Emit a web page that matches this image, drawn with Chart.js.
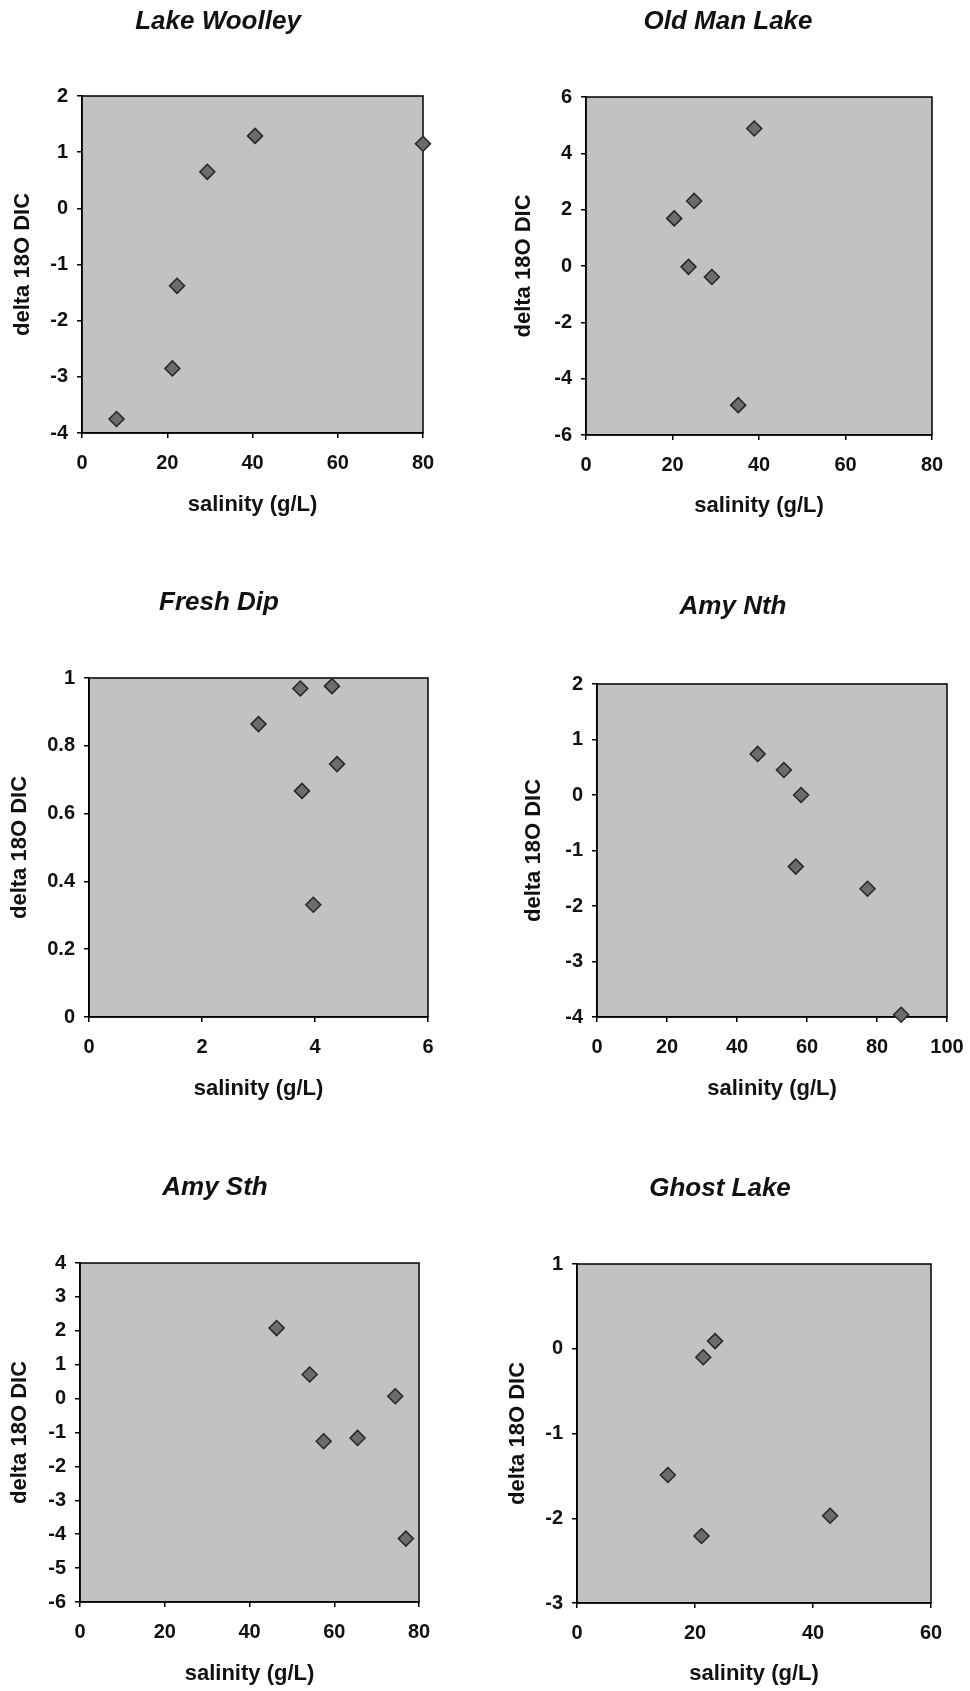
<!DOCTYPE html>
<html>
<head>
<meta charset="utf-8">
<script src="https://cdn.jsdelivr.net/npm/chart.js@4.4.1/dist/chart.umd.min.js"></script>
<style>
  html, body { margin: 0; padding: 0; background: #ffffff; width: 970px; height: 1691px; overflow: hidden; }
  canvas { position: absolute; }
</style>
</head>
<body>
<script>
// ---------------- DATA ----------------
const panelTitles = ['Lake Woolley', 'Old Man Lake', 'Fresh Dip', 'Amy Nth', 'Amy Sth', 'Ghost Lake'];
const xAxisTitle = 'salinity (g/L)';
const yAxisTitle = 'delta 18O DIC';

const woolleySalinity = [8.1, 21.2, 22.3, 29.4, 40.6, 80.0];
const woolleyDelta    = [-3.75, -2.85, -1.38, 0.65, 1.29, 1.15];

const oldManSalinity  = [38.9, 25.0, 20.4, 23.7, 29.1, 35.2];
const oldManDelta     = [4.88, 2.31, 1.69, -0.03, -0.39, -4.94];

const freshDipSalinity = [3.00, 3.74, 4.30, 4.39, 3.77, 3.97];
const freshDipDelta    = [0.864, 0.969, 0.976, 0.746, 0.667, 0.331];

const amyNthSalinity  = [45.9, 53.4, 58.3, 56.8, 77.3, 86.9];
const amyNthDelta     = [0.74, 0.45, 0.0, -1.29, -1.69, -3.96];

const amySthSalinity  = [46.4, 54.2, 57.5, 65.5, 74.4, 76.9];
const amySthDelta     = [2.08, 0.71, -1.26, -1.16, 0.07, -4.13];

const ghostSalinity   = [23.4, 21.4, 15.4, 21.1, 42.9];
const ghostDelta      = [0.09, -0.10, -1.49, -2.21, -1.97];

// tick labels
const woolleyXTicks  = [0, 20, 40, 60, 80];
const woolleyYTicks  = [-4, -3, -2, -1, 0, 1, 2];
const oldManXTicks   = [0, 20, 40, 60, 80];
const oldManYTicks   = [-6, -4, -2, 0, 2, 4, 6];
const freshDipXTicks = [0, 2, 4, 6];
const freshDipYTicks = [0, 0.2, 0.4, 0.6, 0.8, 1];
const amyNthXTicks   = [0, 20, 40, 60, 80, 100];
const amyNthYTicks   = [-4, -3, -2, -1, 0, 1, 2];
const amySthXTicks   = [0, 20, 40, 60, 80];
const amySthYTicks   = [-6, -5, -4, -3, -2, -1, 0, 1, 2, 3, 4];
const ghostXTicks    = [0, 20, 40, 60];
const ghostYTicks    = [-3, -2, -1, 0, 1];

// ---------------- LAYOUT (page pixels) ----------------
const boxes = [
  { L: 82,  T: 96,   R: 423, B: 433,  tx: 218, ty: 22,   yt: 23,  xt: 505 },
  { L: 586, T: 97,   R: 932, B: 435,  tx: 728, ty: 22,   yt: 524, xt: 506 },
  { L: 89,  T: 678,  R: 428, B: 1017, tx: 219, ty: 603,  yt: 20,  xt: 1089 },
  { L: 597, T: 684,  R: 947, B: 1017, tx: 733, ty: 607,  yt: 534, xt: 1089 },
  { L: 80,  T: 1263, R: 419, B: 1602, tx: 215, ty: 1188, yt: 20,  xt: 1674 },
  { L: 577, T: 1264, R: 931, B: 1603, tx: 720, ty: 1189, yt: 518, xt: 1674 }
];

const panels = [
  { xs: woolleySalinity,  ys: woolleyDelta,  xt: woolleyXTicks,  yt: woolleyYTicks },
  { xs: oldManSalinity,   ys: oldManDelta,   xt: oldManXTicks,   yt: oldManYTicks },
  { xs: freshDipSalinity, ys: freshDipDelta, xt: freshDipXTicks, yt: freshDipYTicks },
  { xs: amyNthSalinity,   ys: amyNthDelta,   xt: amyNthXTicks,   yt: amyNthYTicks },
  { xs: amySthSalinity,   ys: amySthDelta,   xt: amySthXTicks,   yt: amySthYTicks },
  { xs: ghostSalinity,    ys: ghostDelta,    xt: ghostXTicks,    yt: ghostYTicks }
];

const FAMILY = '"Liberation Sans", Arial, Helvetica, sans-serif';
const TICK_FONT = { family: FAMILY, size: 20, weight: 'bold' };
const AXIS_FONT = { family: FAMILY, size: 22, weight: 'bold', lineHeight: 1.2 };
const AXIS_HALF = 22 * 1.2 / 2;
const TEXT = '#111111';

const plotFrame = {
  id: 'plotFrame',
  beforeDraw(chart, args, opts) {
    const { ctx, chartArea: a } = chart;
    ctx.save();
    ctx.fillStyle = opts.fill;
    ctx.fillRect(a.left, a.top, a.right - a.left, a.bottom - a.top);
    ctx.restore();
  },
  beforeDatasetsDraw(chart, args, opts) {
    const { ctx, chartArea: a } = chart;
    ctx.save();
    ctx.strokeStyle = '#000';
    ctx.lineWidth = 1.5;
    ctx.strokeRect(a.left, a.top, a.right - a.left, a.bottom - a.top);
    ctx.restore();
  },
  afterDraw(chart, args, opts) {
    const ctx = chart.ctx;
    ctx.save();
    ctx.fillStyle = TEXT;
    ctx.font = 'italic bold 26px ' + FAMILY;
    ctx.textAlign = 'center';
    ctx.textBaseline = 'middle';
    ctx.fillText(opts.title, opts.x, opts.y);
    ctx.restore();
  }
};

panels.forEach((p, i) => {
  const b = boxes[i];
  const left = Math.round(b.yt - AXIS_HALF);
  const top = Math.round(b.ty - 24);
  const yW = b.L - left;
  const padTop = b.T - top;
  const padRight = 32;
  const width = (b.R - left) + padRight;
  const bottom = Math.round(b.xt + AXIS_HALF);
  const height = bottom - top;
  const xH = bottom - b.B;

  const cv = document.createElement('canvas');
  cv.width = width; cv.height = height;
  cv.style.left = left + 'px'; cv.style.top = top + 'px';
  cv.style.width = width + 'px'; cv.style.height = height + 'px';
  document.body.appendChild(cv);

  const pts = p.xs.map((x, k) => ({ x: x, y: p.ys[k] }));
  const xt = p.xt, yt = p.yt;

  new Chart(cv, {
    type: 'scatter',
    data: {
      datasets: [{
        label: panelTitles[i],
        data: pts,
        pointStyle: 'rectRot',
        pointRadius: 7.5,
        pointHoverRadius: 7.5,
        backgroundColor: '#6c6c6c',
        borderColor: '#262626',
        borderWidth: 1.5,
        clip: false
      }]
    },
    options: {
      responsive: false,
      animation: false,
      devicePixelRatio: 1,
      events: [],
      layout: { padding: { left: 0, top: padTop, right: padRight, bottom: 0 } },
      plugins: {
        legend: { display: false },
        tooltip: { enabled: false },
        title: { display: false },
        plotFrame: { fill: '#c2c2c2', title: panelTitles[i], x: b.tx - left, y: b.ty - top }
      },
      scales: {
        x: {
          type: 'linear',
          min: xt[0], max: xt[xt.length - 1],
          afterBuildTicks: s => { s.ticks = xt.map(v => ({ value: v })); },
          afterFit: s => { s.height = xH; },
          ticks: { color: TEXT, font: TICK_FONT, padding: 13, maxRotation: 0, autoSkip: false,
                   callback: v => String(v) },
          grid: { drawOnChartArea: false, drawTicks: true, tickLength: 5, color: '#000', lineWidth: 1.5 },
          border: { display: true, color: '#000', width: 1.5 },
          title: { display: true, text: xAxisTitle, color: TEXT, font: AXIS_FONT, padding: 0 }
        },
        y: {
          type: 'linear',
          min: yt[0], max: yt[yt.length - 1],
          afterBuildTicks: s => { s.ticks = yt.map(v => ({ value: v })); },
          afterFit: s => { s.width = yW; },
          ticks: { color: TEXT, font: TICK_FONT, padding: 9, autoSkip: false,
                   callback: v => String(v) },
          grid: { drawOnChartArea: false, drawTicks: true, tickLength: 5, color: '#000', lineWidth: 1.5 },
          border: { display: true, color: '#000', width: 1.5 },
          title: { display: true, text: yAxisTitle, color: TEXT, font: AXIS_FONT, padding: 0 }
        }
      }
    },
    plugins: [plotFrame]
  });
});
</script>
</body>
</html>
